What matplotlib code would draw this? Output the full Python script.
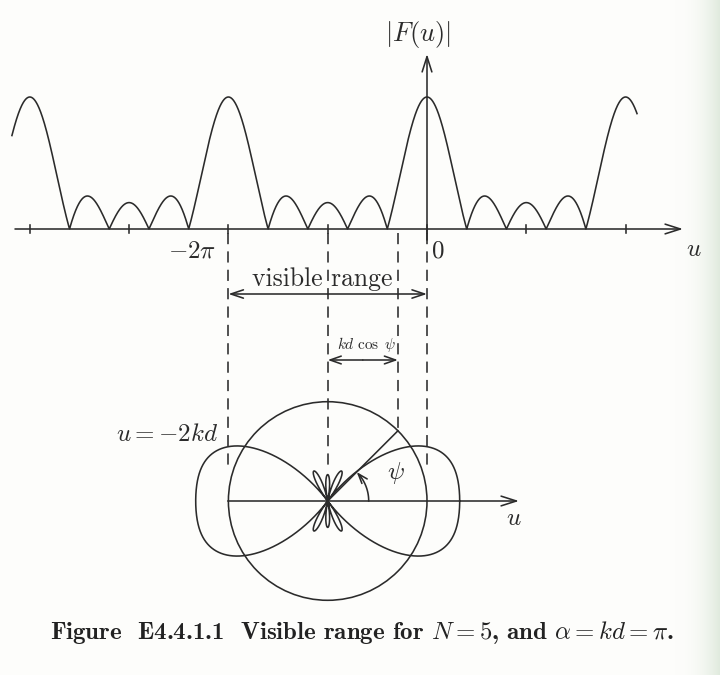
import numpy as np
import matplotlib
matplotlib.use("Agg")
import matplotlib.pyplot as plt
from matplotlib.patches import Circle

plt.rcParams["mathtext.fontset"] = "cm"

# ---- array parameters -------------------------------------------------
N = 5                 # number of elements
kd = np.pi            # electrical spacing k*d
alpha = kd            # progressive phase
psi_ray = np.pi / 4   # direction used for the construction ray
u_curve = (-4.18 * np.pi, 2.115 * np.pi)   # extent of the |F(u)| trace
tick_steps = [-4, -3, -2, -1, 0, 1, 2]     # axis ticks, in units of pi

# ---- layout (pixel based, converted to axis units) --------------------
S = 99.3 / np.pi      # pixels per radian along u
X0, Y0 = 427, 229     # pixel position of u = 0 on the upper axis
W, Hp = 720, 675


def px(x, y):
    return (x - X0) / S, (Y0 - y) / S


INK = "#2b2b2b"
LW = 1.15
peak = 132 / S                    # height of a unit |F| lobe
yc = px(0, 501)[1]                # centre of the polar construction
y_dash_end = px(0, 469)[1]

fig = plt.figure(figsize=(W / 100, Hp / 100), dpi=100)
fig.patch.set_facecolor("#fdfdfb")
ax = fig.add_axes([0, 0, 1, 1])
ax.set_xlim(px(0, 0)[0], px(W, 0)[0])
ax.set_ylim(px(0, Hp)[1], px(0, 0)[1])
ax.set_aspect("equal")
ax.axis("off")

# faint tint along the right edge of the page
grad = np.linspace(0, 1, 60) ** 2.2
tint = np.ones((2, 60, 3))
edge = np.array([0.88, 0.92, 0.87])
base = np.array([0.992, 0.992, 0.984])
tint[:] = base + (edge - base) * grad[None, :, None]
x_a, _ = px(675, 0)
x_b, _ = px(W, 0)
ax.imshow(tint, extent=(x_a, x_b, px(0, Hp)[1], px(0, 0)[1]),
          aspect="auto", zorder=0, interpolation="bilinear")


def array_factor(u):
    num = np.sin(N * u / 2)
    den = N * np.sin(u / 2)
    out = np.ones_like(u)
    ok = np.abs(den) > 1e-9
    out[ok] = num[ok] / den[ok]
    return np.abs(out)


def arrow(p0, p1, style="->", lw=LW, hl=0.9, hw=0.32):
    ax.annotate("", xy=p1, xytext=p0,
                arrowprops=dict(arrowstyle=f"{style}, head_length={hl}, head_width={hw}",
                                lw=lw, color=INK, shrinkA=0, shrinkB=0))


# ---- upper plot: |F(u)| ------------------------------------------------
u = np.linspace(u_curve[0], u_curve[1], 5000)
ax.plot(u, peak * array_factor(u), color=INK, lw=LW)

# axes with arrows
arrow(px(15, Y0), px(683, Y0), hl=1.1, hw=0.35)
arrow(px(X0, 240), px(X0, 54), hl=1.1, hw=0.35)
for k in tick_steps:
    ax.plot([k * np.pi, k * np.pi], [-4 / S, 4 / S], color=INK, lw=LW)

ax.text(*px(418, 35), r"$|F(u)|$", fontsize=19, ha="center", va="center", color=INK)
ax.text(*px(192, 251), r"$-2\pi$", fontsize=18, ha="center", va="center", color=INK)
ax.text(*px(438, 251), r"$0$", fontsize=18, ha="center", va="center", color=INK)
ax.text(*px(694, 249), r"$u$", fontsize=18, ha="center", va="center", color=INK)

# ---- projection lines ---------------------------------------------------
u_ray = -alpha + kd * np.cos(psi_ray)
dash = dict(color=INK, lw=LW, dashes=(7, 4.5))
for ux in (-alpha - kd, -alpha, -alpha + kd):
    ax.plot([ux, ux], [-4 / S, y_dash_end], **dash)
ax.plot([u_ray, u_ray], [-4 / S, yc + kd * np.sin(psi_ray)], **dash)

y_vis = px(0, 294)[1]
arrow((-alpha, y_vis), (-alpha - kd, y_vis), hl=0.9, hw=0.3)
arrow((-alpha, y_vis), (-alpha + kd, y_vis), hl=0.9, hw=0.3)
ax.text(*px(322, 279), "visible range", family="cmr10", fontsize=18.5,
        ha="center", va="center", color=INK)

y_kd = px(0, 360)[1]
arrow(((-alpha + u_ray) / 2, y_kd), (-alpha, y_kd), hl=0.8, hw=0.28)
arrow(((-alpha + u_ray) / 2, y_kd), (u_ray, y_kd), hl=0.8, hw=0.28)
ax.text(*px(367, 344), r"$kd\ \cos\ \psi$", fontsize=11,
        ha="center", va="center", color=INK)

# ---- lower plot: polar construction ------------------------------------
ax.add_patch(Circle((-alpha, yc), kd, fill=False, ec=INK, lw=LW))

psi = np.linspace(0, 2 * np.pi, 6000)
r = peak * array_factor(kd * np.cos(psi) - alpha)
ax.plot(-alpha + r * np.cos(psi), yc + r * np.sin(psi), color=INK, lw=LW)

# horizontal u axis through the centre
ax.plot([-alpha - kd, -alpha], [yc, yc], color=INK, lw=LW)
arrow((-alpha, yc), (px(519, 0)[0], yc), hl=1.1, hw=0.35)
ax.text(*px(514, 518), r"$u$", fontsize=18, ha="center", va="center", color=INK)

# construction ray and its angle
ax.plot([-alpha, -alpha + kd * np.cos(psi_ray)],
        [yc, yc + kd * np.sin(psi_ray)], color=INK, lw=LW)
ra = 41 / S
th = np.linspace(0, psi_ray * 0.86, 60)
ax.plot(-alpha + ra * np.cos(th), yc + ra * np.sin(th), color=INK, lw=LW)
th2 = np.array([psi_ray * 0.8, psi_ray])
arrow((-alpha + ra * np.cos(th2[0]), yc + ra * np.sin(th2[0])),
      (-alpha + ra * np.cos(th2[1]), yc + ra * np.sin(th2[1])), hl=0.7, hw=0.25)
ax.text(*px(396, 473), r"$\psi$", fontsize=18, ha="center", va="center", color=INK)

ax.text(*px(167, 434), r"$u=-2kd$", fontsize=18, ha="center", va="center", color=INK)

# ---- caption -------------------------------------------------------------
ax.text(*px(362, 632),
        r"Figure  E4.4.1.1  Visible range for $N=5$, and $\alpha=kd=\pi$.",
        family="cmb10", fontsize=17.9, ha="center", va="center", color="#222222")

fig.savefig("out.png", dpi=100, facecolor=fig.get_facecolor())
